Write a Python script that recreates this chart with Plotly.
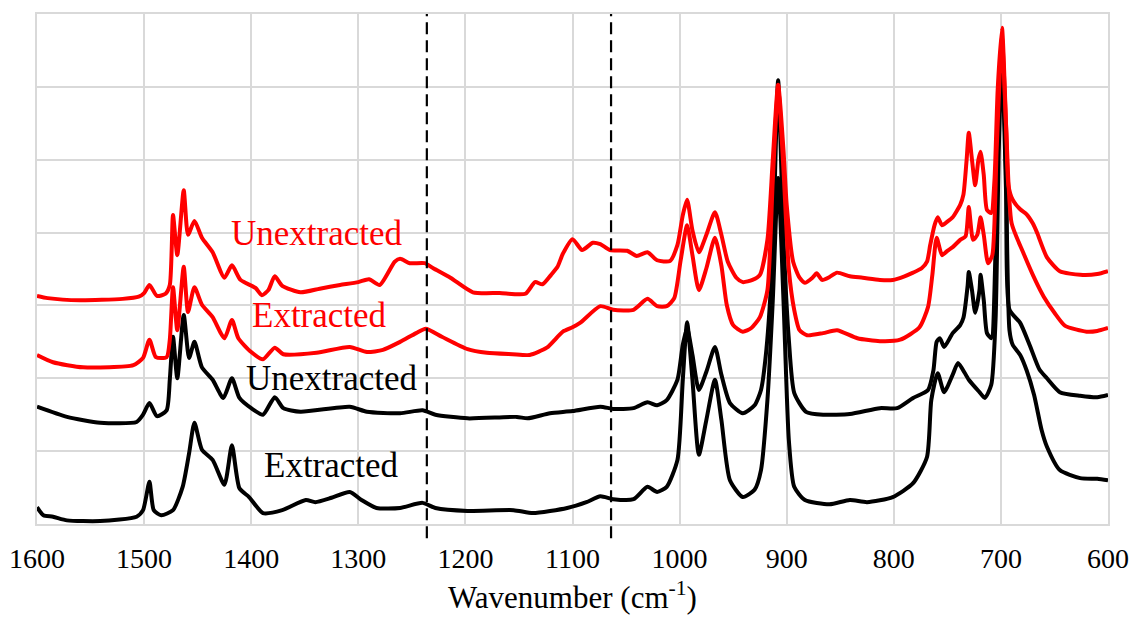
import plotly.graph_objects as go

# FTIR spectra, absorbance (offset, arbitrary units) vs wavenumber (cm-1)
red_unext_wn = [1600, 1590, 1560, 1520, 1505, 1500, 1495, 1488, 1480, 1476, 1473, 1469, 1463, 1459,
                1453, 1446, 1436, 1425, 1418, 1410, 1396, 1390, 1384, 1378, 1371, 1354, 1336, 1317,
                1300, 1290, 1280, 1266, 1261, 1252, 1238, 1230, 1214, 1193, 1168, 1144, 1135, 1128,
                1120, 1114, 1109, 1100, 1091, 1081, 1074, 1065, 1049, 1040, 1030, 1021, 1009, 1002,
                997, 993, 988, 982, 975, 967, 961, 955, 947, 941, 932, 925, 918, 913, 908, 903, 900,
                894, 888, 883, 876, 872, 867, 860, 853, 841, 829, 813, 801, 790, 782, 774, 769, 766,
                762, 759, 755, 750, 745, 738, 735, 732, 730, 727, 724, 721, 719, 716, 713, 709, 706,
                703, 699, 695, 693, 689, 682, 676, 670, 666, 657, 645, 626, 610, 600]
red_unext_ab = [3.13, 3.10, 3.07, 3.09, 3.12, 3.17, 3.28, 3.13, 3.16, 3.28, 4.24, 3.69, 4.58, 3.97,
                4.16, 3.93, 3.73, 3.38, 3.55, 3.35, 3.24, 3.14, 3.21, 3.40, 3.27, 3.18, 3.23, 3.28,
                3.32, 3.36, 3.28, 3.60, 3.64, 3.58, 3.58, 3.51, 3.38, 3.18, 3.17, 3.16, 3.32, 3.29,
                3.42, 3.53, 3.71, 3.91, 3.76, 3.86, 3.84, 3.76, 3.75, 3.68, 3.73, 3.62, 3.61, 3.83,
                4.24, 4.45, 4.03, 3.73, 3.97, 4.28, 3.97, 3.60, 3.38, 3.32, 3.35, 3.42, 3.90, 5.00,
                6.03, 5.13, 4.38, 3.60, 3.38, 3.31, 3.38, 3.44, 3.35, 3.39, 3.45, 3.40, 3.38, 3.35,
                3.35, 3.40, 3.45, 3.51, 3.60, 3.83, 4.10, 4.21, 4.10, 4.15, 4.21, 4.38, 4.52, 5.00,
                5.37, 5.00, 4.65, 5.00, 5.11, 4.79, 4.31, 4.27, 4.72, 5.96, 6.81, 5.40, 4.65, 4.45,
                4.32, 4.25, 4.12, 3.99, 3.66, 3.47, 3.42, 3.43, 3.47]

red_ext_wn = [1600, 1585, 1557, 1510, 1501, 1495, 1489, 1479, 1476, 1473, 1469, 1463, 1459, 1453,
              1446, 1436, 1425, 1418, 1412, 1400, 1389, 1378, 1370, 1339, 1308, 1292, 1277, 1261,
              1246, 1237, 1222, 1198, 1180, 1156, 1140, 1124, 1109, 1100, 1093, 1074, 1062, 1043,
              1030, 1021, 1012, 1005, 999, 993, 988, 982, 975, 967, 961, 956, 950, 941, 933, 925,
              918, 913, 908, 903, 898, 893, 888, 881, 866, 853, 834, 813, 794, 776, 768, 764, 760,
              755, 750, 745, 738, 733, 730, 726, 722, 719, 716, 712, 708, 704, 699, 695, 690, 679,
              668, 660, 650, 640, 620, 610, 600]
red_ext_ab = [2.32, 2.22, 2.15, 2.18, 2.28, 2.53, 2.29, 2.29, 2.53, 3.25, 2.66, 3.53, 2.91, 3.25,
              3.01, 2.84, 2.55, 2.80, 2.55, 2.36, 2.26, 2.42, 2.33, 2.35, 2.43, 2.36, 2.39, 2.50,
              2.62, 2.68, 2.57, 2.40, 2.35, 2.33, 2.32, 2.42, 2.64, 2.70, 2.76, 2.99, 2.94, 2.94,
              3.09, 2.99, 2.99, 3.10, 3.62, 4.10, 3.69, 3.21, 3.51, 3.93, 3.55, 3.01, 2.73, 2.64,
              2.69, 2.84, 3.21, 4.72, 5.98, 4.86, 3.49, 2.94, 2.66, 2.59, 2.62, 2.66, 2.55, 2.51,
              2.53, 2.70, 2.98, 3.42, 3.93, 3.69, 3.75, 3.80, 3.90, 3.95, 4.35, 3.90, 3.97, 4.21,
              3.97, 3.58, 3.69, 5.13, 6.67, 5.41, 4.13, 3.72, 3.35, 3.12, 2.90, 2.72, 2.64, 2.65,
              2.69]

black_unext_wn = [1600, 1572, 1541, 1507, 1501, 1495, 1488, 1479, 1476, 1473, 1469, 1463, 1458, 1453,
                  1446, 1436, 1426, 1418, 1411, 1400, 1389, 1378, 1370, 1354, 1308, 1292, 1261, 1240,
                  1228, 1198, 1152, 1142, 1121, 1100, 1074, 1062, 1043, 1030, 1021, 1012, 1002, 997,
                  993, 988, 982, 975, 967, 961, 953, 941, 930, 924, 919, 913, 908, 903, 898, 893, 882,
                  866, 841, 813, 797, 782, 768, 763, 760, 757, 753, 745, 738, 735, 731, 730, 727, 724,
                  720, 719, 716, 713, 709, 705, 702, 699, 695, 692, 682, 673, 664, 657, 645, 626, 610,
                  600]
black_unext_ab = [1.61, 1.47, 1.39, 1.40, 1.50, 1.66, 1.48, 1.56, 1.98, 2.57, 2.00, 2.87, 2.28, 2.50,
                  2.15, 1.98, 1.73, 2.00, 1.73, 1.59, 1.50, 1.74, 1.59, 1.54, 1.61, 1.54, 1.52, 1.56,
                  1.50, 1.45, 1.47, 1.45, 1.52, 1.55, 1.61, 1.58, 1.59, 1.67, 1.63, 1.70, 1.98, 2.46,
                  2.69, 2.32, 1.84, 2.09, 2.43, 2.05, 1.66, 1.52, 1.63, 1.84, 2.39, 3.76, 6.09, 3.90,
                  2.53, 1.80, 1.54, 1.50, 1.51, 1.59, 1.59, 1.73, 1.84, 2.11, 2.50, 2.55, 2.43, 2.62,
                  2.73, 2.83, 3.28, 3.46, 3.21, 2.90, 3.21, 3.42, 3.07, 2.62, 2.55, 3.76, 5.54, 6.62,
                  4.72, 2.94, 2.76, 2.45, 2.12, 2.00, 1.81, 1.76, 1.74, 1.77]

black_ext_wn = [1600, 1594, 1585, 1572, 1541, 1507, 1501, 1495, 1491, 1484, 1473, 1464, 1458, 1453,
                1446, 1436, 1425, 1418, 1411, 1402, 1389, 1371, 1349, 1340, 1325, 1308, 1297, 1283,
                1261, 1240, 1228, 1198, 1155, 1137, 1105, 1087, 1074, 1062, 1043, 1030, 1021, 1012,
                1002, 997, 993, 988, 982, 975, 967, 961, 953, 941, 930, 924, 918, 913, 908, 903, 898,
                893, 883, 860, 841, 825, 801, 782, 769, 765, 759, 753, 745, 740, 730, 720, 715, 709,
                705, 702, 699, 695, 692, 689, 682, 676, 669, 662, 657, 645, 626, 610, 600]
black_ext_ab = [0.23, 0.12, 0.10, 0.05, 0.04, 0.10, 0.19, 0.58, 0.19, 0.12, 0.19, 0.51, 0.97, 1.39,
                1.02, 0.88, 0.54, 1.08, 0.49, 0.37, 0.15, 0.19, 0.33, 0.30, 0.36, 0.44, 0.33, 0.22,
                0.22, 0.29, 0.22, 0.18, 0.19, 0.15, 0.22, 0.30, 0.38, 0.34, 0.34, 0.51, 0.44, 0.51,
                0.88, 1.98, 2.77, 1.98, 0.95, 1.43, 1.98, 1.43, 0.60, 0.37, 0.47, 0.74, 1.70, 3.07,
                4.75, 3.07, 1.15, 0.51, 0.33, 0.27, 0.33, 0.30, 0.37, 0.56, 0.92, 1.70, 2.07, 1.81,
                2.05, 2.21, 1.98, 1.81, 1.73, 1.91, 2.80, 5.13, 6.37, 4.45, 2.66, 2.46, 2.32, 2.11,
                1.77, 1.29, 1.06, 0.74, 0.63, 0.62, 0.60]

series = [
    (black_ext_wn, black_ext_ab, "#000000"),
    (black_unext_wn, black_unext_ab, "#000000"),
    (red_ext_wn, red_ext_ab, "#ff0000"),
    (red_unext_wn, red_unext_ab, "#ff0000"),
]

# Curve labels: text, wavenumber, absorbance, colour
labels = [
    ("Unextracted", 1339, 3.99, "#ff0000"),
    ("Extracted", 1336, 2.86, "#ff0000"),
    ("Unextracted", 1325, 2.00, "#000000"),
    ("Extracted", 1325, 0.80, "#000000"),
]

# Band region markers (cm-1)
marker_wn = [1236, 1064]

x_ticks = [1600, 1500, 1400, 1300, 1200, 1100, 1000, 900, 800, 700, 600]

fig = go.Figure()
for wn, ab, col in series:
    fig.add_trace(go.Scatter(x=wn, y=ab, mode="lines",
                             line=dict(color=col, width=4, shape="spline", smoothing=0.6),
                             showlegend=False, hoverinfo="skip"))

serif = "Liberation Serif"
for text, x, y, col in labels:
    fig.add_annotation(x=x, y=y, text=text, showarrow=False,
                       font=dict(family=serif, size=35, color=col))

for wn in marker_wn:
    fig.add_shape(type="line", x0=wn, x1=wn, xref="x", yref="paper", y0=-0.028, y1=1.0,
                  line=dict(color="#000000", width=2.2, dash="12px,6px"))

grid = "#d9d9d9"
fig.update_layout(
    width=1133, height=617,
    margin=dict(l=37, r=25, t=14, b=93, autoexpand=False),
    paper_bgcolor="white", plot_bgcolor="white",
    font=dict(family=serif, size=28, color="#000000"),
    xaxis=dict(range=[1600, 600], tickvals=x_ticks, showgrid=True, gridcolor=grid, gridwidth=2,
               showline=True, linecolor=grid, linewidth=2, mirror=True, zeroline=False,
               automargin=False, ticks="", ticklabelstandoff=8,
               tickfont=dict(family=serif, size=28, color="#000000"),
               title=dict(text="Wavenumber (cm<sup>-1</sup>)",
                          font=dict(family=serif, size=31, color="#000000"), standoff=14)),
    yaxis=dict(range=[0, 7], dtick=1, showgrid=True, gridcolor=grid, gridwidth=2,
               showline=True, linecolor=grid, linewidth=2, mirror=True, zeroline=False,
               automargin=False, showticklabels=False, ticks=""),
)

fig.write_html("out.html")
